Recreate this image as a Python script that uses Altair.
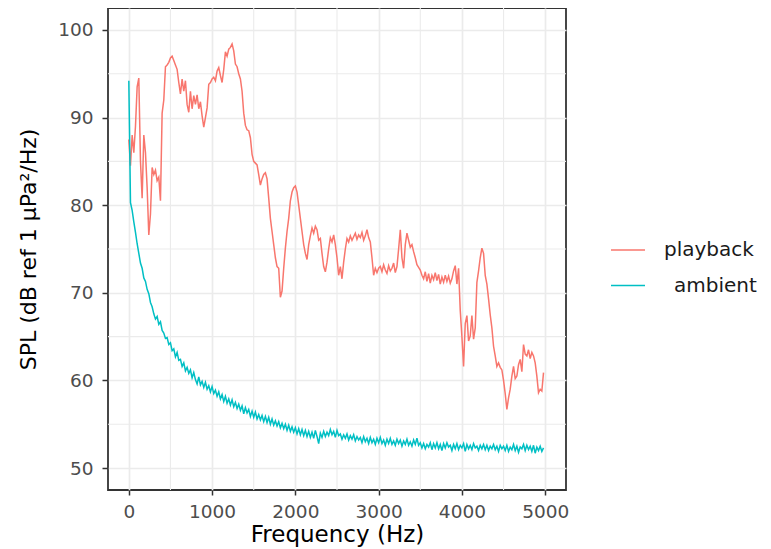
import altair as alt
import pandas as pd

step_hz = 20

playback = [
    87.5, 84.5, 88.0, 86.0, 89.0, 93.5, 94.5, 85.0, 80.8, 88.0,
    86.0, 82.0, 76.6, 79.0, 84.3, 83.5, 84.0, 82.8, 83.2, 80.5,
    90.5, 92.0, 95.8, 96.0, 96.3, 96.8, 97.0, 96.5, 96.0, 95.5,
    94.0, 92.7, 94.4, 93.0, 94.2, 91.5, 90.6, 93.0, 91.0, 92.5,
    91.5, 92.6, 91.0, 91.8, 90.2, 88.9, 90.0, 91.1, 93.8, 94.0,
    94.4, 94.6, 94.2, 95.3, 95.7, 94.8, 94.0, 95.5, 97.5, 97.0,
    97.8, 98.0, 98.4, 97.6, 96.1, 95.8, 95.0, 94.4, 93.0, 90.5,
    89.1, 88.6, 88.5, 87.7, 85.8, 85.0, 84.8, 84.6, 83.5, 82.3,
    83.0, 83.5, 83.7, 83.0, 80.8, 78.5, 77.0, 75.5, 74.0, 73.0,
    72.8, 69.5, 70.2, 72.8, 75.1, 77.0, 78.5, 80.5, 81.5, 82.0,
    82.2, 81.5, 80.0, 78.5, 77.0, 75.5, 74.5, 73.8, 75.5, 76.5,
    77.4, 76.8, 77.6, 77.2, 76.0, 76.2, 74.5, 73.0, 72.4, 73.5,
    75.0, 76.3, 75.8, 76.6, 75.5, 74.0, 72.0, 73.0, 71.6, 73.5,
    75.0, 76.2, 75.8, 76.5, 76.0, 76.4, 76.8, 76.1, 76.6, 76.3,
    76.9, 76.0, 76.5, 77.2, 76.3, 75.8, 74.0, 72.0, 72.8, 72.3,
    72.8, 73.0, 72.4, 73.2, 72.6, 72.2, 73.1, 72.5, 72.8, 73.4,
    72.3, 73.0, 75.0, 77.2, 74.0, 72.8, 75.5, 76.8, 76.0, 75.2,
    75.5, 74.7, 74.0, 73.2, 72.9, 72.6, 72.0, 71.6, 72.4, 71.3,
    72.2, 71.1, 72.0, 71.5, 72.3, 71.4, 72.1, 71.0, 71.8, 71.2,
    72.0, 71.3, 71.9, 71.1, 71.6, 72.5, 73.1, 71.0, 72.8, 68.0,
    65.0, 61.6, 66.5, 67.4, 64.5, 65.1, 67.4, 64.7, 66.0, 71.2,
    72.5, 74.0, 75.1, 74.5, 72.0, 71.0, 69.3, 67.5, 66.0, 63.9,
    62.8, 61.6, 62.0, 61.5, 61.2, 60.0, 58.5, 56.7, 58.0, 59.0,
    60.5, 61.6, 60.2, 60.5, 61.8, 62.4, 61.0, 64.1, 63.0, 62.8,
    63.5, 62.5, 63.2, 62.8, 62.0, 60.5, 58.6, 59.0, 58.8, 60.9,
]

ambient = [
    94.2, 80.3, 79.4, 78.1, 76.9, 75.6, 74.5, 73.4, 72.8, 71.7,
    71.3, 70.4, 69.9, 68.9, 68.4, 67.6, 67.0, 67.3, 66.4, 66.7,
    65.7, 65.4, 64.8, 64.9, 64.1, 64.3, 63.4, 63.6, 62.7, 63.2,
    62.3, 62.4, 61.6, 62.0, 61.1, 61.5, 60.8, 61.2, 60.3, 60.9,
    60.1, 59.6, 60.4, 59.5, 59.9, 59.2, 59.8, 59.0, 59.4, 58.7,
    59.3, 58.5, 58.9, 58.2, 58.7, 57.9, 58.4, 57.6, 58.2, 57.4,
    57.9, 57.2, 57.8, 57.0, 57.5, 56.8, 57.3, 56.6, 57.1, 56.2,
    56.9, 56.3, 56.7, 55.9, 56.5, 55.8, 56.4, 55.6, 56.1, 55.5,
    56.0, 55.3, 55.9, 55.2, 55.8, 55.0, 55.6, 54.9, 55.4, 54.8,
    55.3, 54.6, 55.1, 54.5, 55.0, 54.3, 54.9, 54.2, 54.7, 54.1,
    54.6, 53.9, 54.5, 53.8, 54.4, 53.7, 54.3, 53.6, 54.2, 53.5,
    54.1, 53.4, 54.3, 53.6, 52.8, 54.0, 53.5, 54.2, 53.6, 54.1,
    53.7, 54.4, 53.8, 54.2, 53.5, 54.3, 53.7, 53.9, 53.3, 53.8,
    53.4, 53.9, 53.2, 53.7, 53.3, 53.8, 53.1, 53.6, 53.2, 53.5,
    52.9, 53.6, 53.0, 53.4, 52.8, 53.5, 52.9, 53.3, 52.7, 53.4,
    52.9, 53.5, 52.8, 53.2, 52.6, 53.3, 52.8, 53.4, 52.7, 53.1,
    52.6, 53.3, 52.8, 53.2, 52.5, 53.1, 52.7, 53.3, 52.6, 53.0,
    52.5, 53.2, 52.7, 53.4, 52.6, 52.9, 52.3, 52.8, 52.2, 52.7,
    52.4, 52.9, 52.1, 52.8, 52.3, 52.9, 52.2, 52.7, 52.0, 52.8,
    52.3, 52.9, 52.4, 52.6, 52.0, 52.7, 52.2, 52.8, 52.1, 52.6,
    52.3, 52.8, 51.9, 52.7, 52.2, 52.6, 52.1, 52.8, 52.3, 52.5,
    52.0, 52.6, 52.2, 52.7, 52.1, 52.6, 52.0, 52.5, 52.2, 52.7,
    52.1, 52.5, 51.9, 52.6, 52.2, 52.5, 52.0, 52.6, 51.9, 52.4,
    52.1, 52.7, 52.0, 52.5, 51.8, 52.4, 52.2, 52.7, 52.0, 52.6,
    52.1, 52.5, 51.9, 52.6, 51.7, 52.4, 52.0, 52.5, 51.9, 52.3,
]

series_names = ["playback", "ambient"]
series_colors = ["#F8766D", "#00BFC4"]
# the second legend label is indented by a blank in the original
ambient_label = "\u200d\u2002ambient"

x_ticks = [0, 1000, 2000, 3000, 4000, 5000]
x_minor = [500, 1500, 2500, 3500, 4500]
y_ticks = [50, 60, 70, 80, 90, 100]
y_minor = [55, 65, 75, 85, 95]

rows = []
for name, vals in zip(series_names, [playback, ambient]):
    for i, v in enumerate(vals):
        rows.append({"Frequency": i * step_hz, "SPL": v, "series": name})
df = pd.DataFrame(rows)

FONT = "DejaVu Sans"
GRID = "#EBEBEB"

x_scale = alt.Scale(domain=[-250, 5250], nice=False, zero=False)
y_scale = alt.Scale(domain=[47.5, 102.5], nice=False, zero=False)

x_axis = alt.Axis(
    values=x_ticks,
    format="d",
    title="Frequency (Hz)",
    grid=True,
    gridColor=GRID,
    gridWidth=1.7,
    domain=False,
    tickColor="#333333",
    tickWidth=1.5,
    tickSize=5,
    labelPadding=7,
    labelFont=FONT,
    labelFontSize=18.5,
    labelColor="#4D4D4D",
    titleFont=FONT,
    titleFontSize=23,
    titleFontWeight="normal",
    titleColor="#000000",
    titleBaseline="middle",
    titleY=44,
)

y_axis = alt.Axis(
    values=y_ticks,
    format="d",
    title="SPL (dB ref 1 μPa²/Hz)",
    grid=True,
    gridColor=GRID,
    gridWidth=1.7,
    domain=False,
    tickColor="#333333",
    tickWidth=1.5,
    tickSize=6,
    labelPadding=9,
    labelFont=FONT,
    labelFontSize=18.5,
    labelColor="#4D4D4D",
    titleFont=FONT,
    titleFontSize=22,
    titleFontWeight="normal",
    titleColor="#000000",
    titleBaseline="middle",
    titleX=-80,
)

minor_x = alt.Chart(pd.DataFrame({"Frequency": x_minor})).mark_rule(
    color=GRID, strokeWidth=1.1
).encode(x=alt.X("Frequency:Q", scale=x_scale, axis=x_axis))

minor_y = alt.Chart(pd.DataFrame({"SPL": y_minor})).mark_rule(
    color=GRID, strokeWidth=1.1
).encode(y=alt.Y("SPL:Q", scale=y_scale, axis=y_axis))

lines = alt.Chart(df).mark_line(strokeWidth=1.5).encode(
    x=alt.X("Frequency:Q", scale=x_scale, axis=x_axis),
    y=alt.Y("SPL:Q", scale=y_scale, axis=y_axis),
    color=alt.Color(
        "series:N",
        scale=alt.Scale(domain=series_names, range=series_colors),
        sort=series_names,
        title=None,
        legend=alt.Legend(
            orient="none",
            legendX=502,
            legendY=224,
            symbolType="stroke",
            symbolSize=1156,
            symbolStrokeWidth=1.6,
            labelFont=FONT,
            labelFontSize=20,
            labelColor="#1A1A1A",
            labelOffset=18,
            rowPadding=7.5,
            padding=0,
            labelExpr="datum.label == 'ambient' ? '" + ambient_label + "' : datum.label",
        ),
    ),
    detail="series:N",
)

chart = alt.layer(minor_x, minor_y, lines).properties(
    width=458,
    height=482,
    autosize=alt.AutoSizeParams(type="none"),
    padding={"left": 100, "top": 0, "right": 195, "bottom": 58},
).configure_view(
    stroke="#333333", strokeWidth=1.8
)

chart.save("out.html", embed_options={"renderer": "svg", "actions": False})
